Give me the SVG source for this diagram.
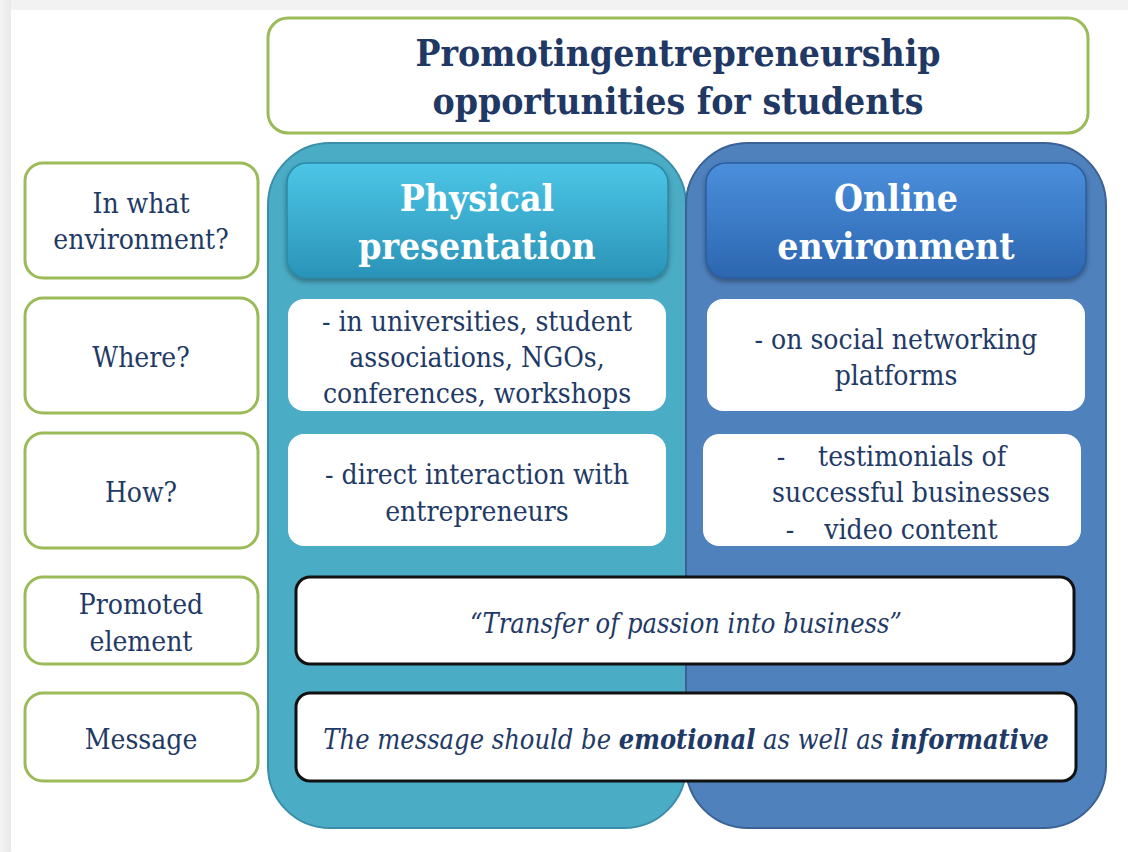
<svg xmlns="http://www.w3.org/2000/svg" width="1128" height="852" viewBox="0 0 1128 852">
  <defs>
    <linearGradient id="gradPhys" x1="0" y1="0" x2="0" y2="1">
      <stop offset="0" stop-color="#4cc6e6"/>
      <stop offset="1" stop-color="#2a93b8"/>
    </linearGradient>
    <linearGradient id="gradOnline" x1="0" y1="0" x2="0" y2="1">
      <stop offset="0" stop-color="#4b8fdc"/>
      <stop offset="1" stop-color="#2c66b0"/>
    </linearGradient>
    <linearGradient id="edgeLeft" x1="0" y1="0" x2="1" y2="0">
      <stop offset="0" stop-color="#f4f4f4"/>
      <stop offset="1" stop-color="#e9e9e9"/>
    </linearGradient>
    <filter id="shadow" x="-10%" y="-10%" width="120%" height="130%">
      <feDropShadow dx="0" dy="3" stdDeviation="2.5" flood-color="#000" flood-opacity="0.35"/>
    </filter>
  </defs>
  <style>
    text { font-family: "DejaVu Serif Condensed", "DejaVu Serif", "Liberation Serif", serif; text-anchor: middle; fill: #1f3a66; }
    .label { fill: #ffffff; stroke: #9bbb59; stroke-width: 3; }
    .cell { fill: #ffffff; }
    .band { fill: #ffffff; stroke: #111111; stroke-width: 3; }
    .lbl { font-size: 28px; }
    .cellText { font-size: 28px; }
    .title { font-size: 37px; font-weight: bold; fill: #1f3864; }
    .head { font-size: 37px; font-weight: bold; fill: #ffffff; }
    .quote { font-size: 27px; font-style: italic; }
  </style>

  <!-- page background with light frame -->
  <rect x="0" y="0" width="1128" height="852" fill="#f2f2f2"/>
  <rect x="0" y="0" width="11" height="852" fill="url(#edgeLeft)"/>
  <rect x="11" y="10" width="1117" height="842" fill="#ffffff"/>

  <!-- title -->
  <g id="title">
    <rect class="label" x="268" y="18" width="820" height="115" rx="20"/>
    <text class="title" x="678" y="66">Promotingentrepreneurship</text>
    <text class="title" x="678" y="114">opportunities for students</text>
  </g>

  <!-- two environment columns -->
  <g id="col-physical">
    <rect x="268" y="143" width="418" height="685" rx="62" fill="#4bacc6" stroke="#3a8ea8" stroke-width="2"/>
  </g>
  <g id="col-online">
    <rect x="686" y="143" width="420" height="685" rx="62" fill="#4f81bd" stroke="#3b6195" stroke-width="2"/>
  </g>

  <g id="head-physical">
    <rect x="287" y="163" width="381" height="115" rx="20" fill="url(#gradPhys)" stroke="#2b88a8" stroke-width="1.5" filter="url(#shadow)"/>
    <text class="head" x="477" y="211">Physical</text>
    <text class="head" x="477" y="259">presentation</text>
  </g>
  <g id="head-online">
    <rect x="706" y="163" width="380" height="115" rx="20" fill="url(#gradOnline)" stroke="#2a5d9e" stroke-width="1.5" filter="url(#shadow)"/>
    <text class="head" x="896" y="211">Online</text>
    <text class="head" x="896" y="259">environment</text>
  </g>

  <!-- row labels -->
  <g id="lbl-environment">
    <rect class="label" x="25" y="163" width="233" height="115" rx="18"/>
    <text class="lbl" x="141" y="213">In what</text>
    <text class="lbl" x="141" y="249">environment?</text>
  </g>
  <g id="lbl-where">
    <rect class="label" x="25" y="298" width="233" height="115" rx="18"/>
    <text class="lbl" x="141" y="367">Where?</text>
  </g>
  <g id="lbl-how">
    <rect class="label" x="25" y="433" width="233" height="115" rx="18"/>
    <text class="lbl" x="141" y="502">How?</text>
  </g>
  <g id="lbl-promoted">
    <rect class="label" x="25" y="577" width="233" height="87" rx="18"/>
    <text class="lbl" x="141" y="614">Promoted</text>
    <text class="lbl" x="141" y="651">element</text>
  </g>
  <g id="lbl-message">
    <rect class="label" x="25" y="693" width="233" height="88" rx="18"/>
    <text class="lbl" x="141" y="749">Message</text>
  </g>

  <!-- cells -->
  <g id="where-physical">
    <rect class="cell" x="288" y="299" width="378" height="112" rx="16"/>
    <text class="cellText" x="477" y="331">- in universities, student</text>
    <text class="cellText" x="477" y="367">associations, NGOs,</text>
    <text class="cellText" x="477" y="403">conferences, workshops</text>
  </g>
  <g id="where-online">
    <rect class="cell" x="707" y="299" width="378" height="112" rx="16"/>
    <text class="cellText" x="896" y="349">- on social networking</text>
    <text class="cellText" x="896" y="385">platforms</text>
  </g>
  <g id="how-physical">
    <rect class="cell" x="288" y="434" width="378" height="112" rx="16"/>
    <text class="cellText" x="477" y="484">- direct interaction with</text>
    <text class="cellText" x="477" y="521">entrepreneurs</text>
  </g>
  <g id="how-online">
    <rect class="cell" x="703" y="434" width="378" height="112" rx="16"/>
    <text class="cellText" x="781" y="466">-</text>
    <text class="cellText" x="912" y="466">testimonials of</text>
    <text class="cellText" x="911" y="502">successful businesses</text>
    <text class="cellText" x="790" y="539">-</text>
    <text class="cellText" x="911" y="539">video content</text>
  </g>

  <!-- spanning bands -->
  <g id="promoted">
    <rect class="band" x="296" y="577" width="778" height="87" rx="14"/>
    <text class="quote" x="686" y="633">“Transfer of passion into business”</text>
  </g>
  <g id="message">
    <rect class="band" x="296" y="693" width="780" height="88" rx="14"/>
    <text class="quote" x="686" y="749">The message should be <tspan font-weight="bold">emotional</tspan> as well as <tspan font-weight="bold">informative</tspan></text>
  </g>
</svg>
